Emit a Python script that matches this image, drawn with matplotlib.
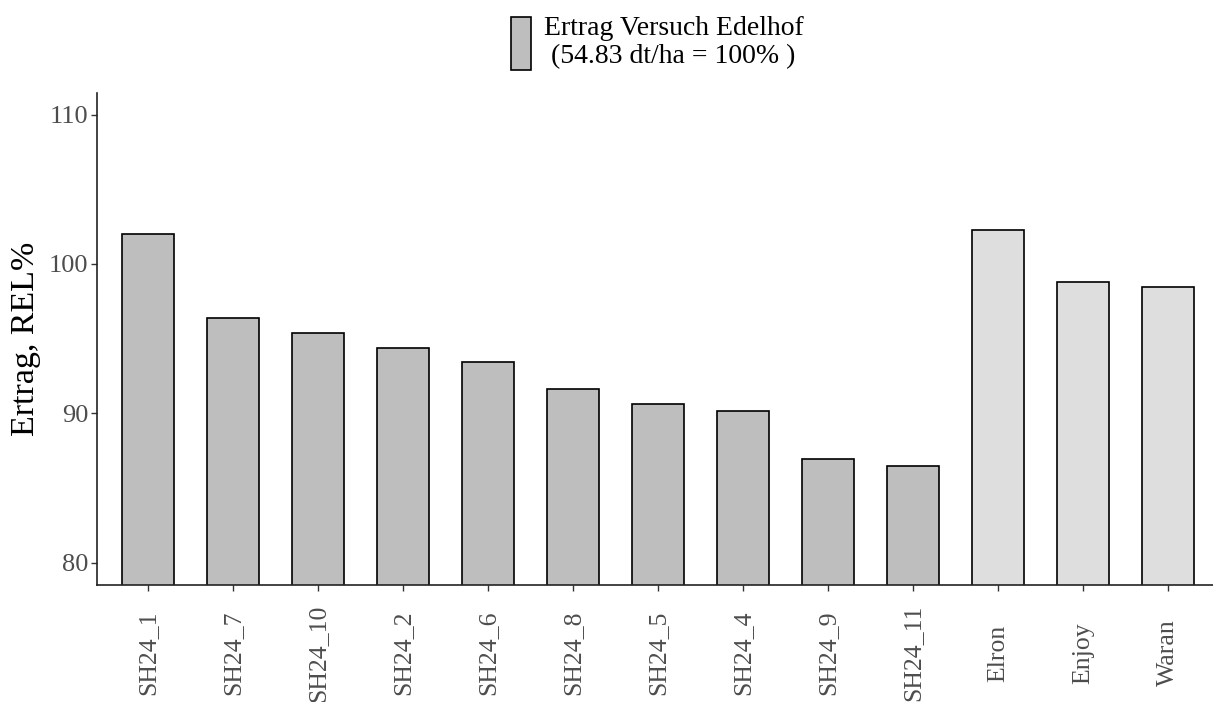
import matplotlib
matplotlib.use("Agg")
import matplotlib.pyplot as plt
from matplotlib.patches import Patch

# data
sorten = ["SH24_1", "SH24_7", "SH24_10", "SH24_2", "SH24_6", "SH24_8", "SH24_5",
          "SH24_4", "SH24_9", "SH24_11", "Elron", "Enjoy", "Waran"]
ertrag_rel = [102.0, 96.4, 95.35, 94.35, 93.45, 91.65, 90.65,
              90.15, 86.95, 86.5, 102.3, 98.8, 98.45]
standard = [False] * 10 + [True] * 3
y_ticks = [80, 90, 100, 110]
legend_label = "Ertrag Versuch Edelhof\n (54.83 dt/ha = 100% )"

plt.rcParams["font.family"] = ["Liberation Serif", "DejaVu Serif"]

fig = plt.figure(figsize=(12.13, 7.02), dpi=100)
ax = fig.add_axes([97 / 1213, 1 - 585 / 702, (1219 - 97) / 1213, (585 - 93) / 702])

x = list(range(len(sorten)))
farben = ["#DEDEDE" if s else "#BEBEBE" for s in standard]
ax.bar(x, [v - 70 for v in ertrag_rel], bottom=70, width=0.61, color=farben,
       edgecolor="black", linewidth=1.2, zorder=2)

ax.set_xlim(-0.6, len(sorten) - 0.4)
ax.set_ylim(78.5, 111.45)
ax.set_yticks(y_ticks)
ax.set_xticks(x)
ax.set_xticklabels(sorten, rotation=90, ha="center", va="center")

ax.tick_params(axis="y", labelsize=19, labelcolor="#4D4D4D", length=4, width=1, color="#333333", pad=2)
ax.tick_params(axis="x", labelsize=18.5, labelcolor="#4D4D4D", length=4, width=1, color="#333333", pad=45)

for s in ["top", "right"]:
    ax.spines[s].set_visible(False)
for s in ["left", "bottom"]:
    ax.spines[s].set_linewidth(1.2)
    ax.spines[s].set_color("#222222")

ax.set_ylabel("Ertrag, REL%", fontsize=24.5, labelpad=6)

handle = Patch(facecolor="#BEBEBE", edgecolor="black", linewidth=1.2)
fig.legend([handle], [legend_label], loc="upper left",
           bbox_to_anchor=(505 / 1213, 1 - 10 / 702),
           frameon=False, fontsize=20, handlelength=0.75, handleheight=2.55,
           handletextpad=0.45, borderaxespad=0, borderpad=0.2, labelspacing=0)

fig.savefig("out.png", dpi=100)
